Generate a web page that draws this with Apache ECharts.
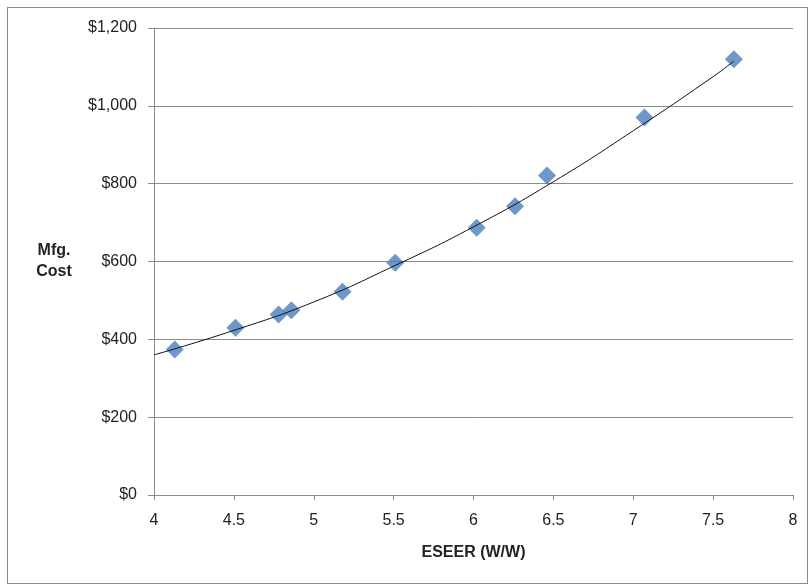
<!DOCTYPE html>
<html>
<head>
<meta charset="utf-8">
<script src="https://cdn.jsdelivr.net/npm/echarts@6/dist/echarts.min.js"></script>
<style>
  html, body { margin: 0; padding: 0; background: #fff; }
  #frame {
    position: absolute;
    left: 7px;
    top: 7px;
    width: 801px;
    height: 577px;
    border: 1px solid #8a8a8a;
    box-sizing: border-box;
  }
  #chart { position: absolute; left: 0; top: 0; width: 810px; height: 586px; }
</style>
</head>
<body>
<div id="frame"></div>
<div id="chart"></div>
<script>
  // measured points (ESEER, cost)
  const eseer = [4.13, 4.51, 4.78, 4.86, 5.18, 5.51, 6.02, 6.26, 6.46, 7.07, 7.63];
  const cost = [374, 430, 464, 475, 522, 597, 687, 742, 821, 970, 1120];

  // trendline
  const trendX = [4, 4.5, 5, 5.5, 6, 6.5, 7, 7.5, 7.63];
  const trendY = [360, 423, 496, 588, 689, 805, 936, 1075, 1115];

  const xTicks = { min: 4, max: 8, interval: 0.5 };
  const yTicks = { min: 0, max: 1200, interval: 200 };

  const font = 'Liberation Sans';

  const chart = echarts.init(document.getElementById('chart'));
  chart.setOption({
    animation: false,
    grid: { left: 154, right: 17, top: 28, bottom: 91 },
    xAxis: {
      type: 'value',
      min: xTicks.min,
      max: xTicks.max,
      interval: xTicks.interval,
      name: 'ESEER (W/W)',
      nameLocation: 'middle',
      nameGap: 50,
      nameTextStyle: { fontFamily: font, fontSize: 16, fontWeight: 'bold', color: '#222' },
      axisLine: { lineStyle: { color: '#8a8a8a', width: 1 } },
      axisTick: { show: true, length: 5, lineStyle: { color: '#8a8a8a' } },
      axisLabel: { fontFamily: font, fontSize: 16, color: '#222', margin: 18 },
      splitLine: { show: false },
    },
    yAxis: {
      type: 'value',
      min: yTicks.min,
      max: yTicks.max,
      interval: yTicks.interval,
      name: 'Mfg.\nCost',
      nameLocation: 'middle',
      nameRotate: 0,
      nameGap: 100,
      nameTextStyle: {
        fontFamily: font, fontSize: 16, fontWeight: 'bold', color: '#222',
        align: 'center', lineHeight: 21, padding: [6, 0, 0, 0],
      },
      axisLine: { show: true, lineStyle: { color: '#8a8a8a', width: 1 } },
      axisTick: { show: true, length: 6, lineStyle: { color: '#8a8a8a' } },
      axisLabel: {
        fontFamily: font, fontSize: 16, color: '#222', margin: 17,
        formatter: (v) => '$' + v.toLocaleString('en-US'),
      },
      splitLine: { show: true, lineStyle: { color: '#8a8a8a', width: 1 } },
    },
    series: [
      {
        name: 'Trend',
        type: 'line',
        data: trendX.map((x, i) => [x, trendY[i]]),
        smooth: true,
        symbol: 'none',
        lineStyle: { color: '#111', width: 1 },
        z: 3,
      },
      {
        name: 'Mfg. Cost',
        type: 'scatter',
        data: eseer.map((x, i) => [x, cost[i]]),
        symbol: 'diamond',
        symbolSize: 18,
        itemStyle: { color: '#4a7ebb' },
        z: 2,
      },
    ],
  });
</script>
</body>
</html>
